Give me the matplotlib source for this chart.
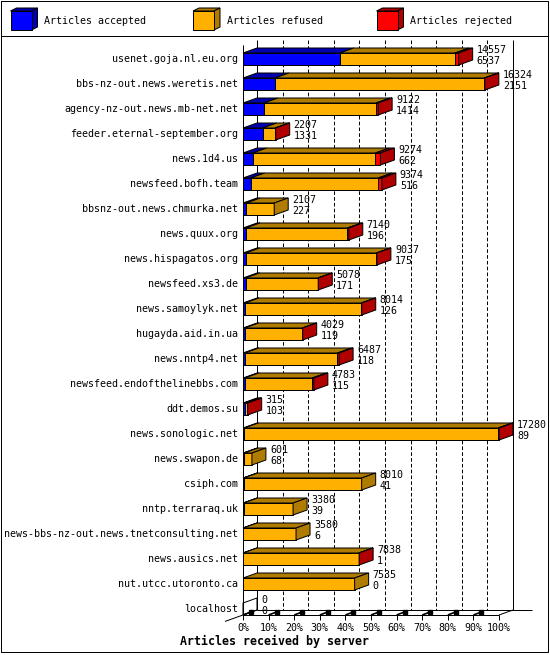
import matplotlib
matplotlib.use("Agg")
import matplotlib.pyplot as plt
from matplotlib.patches import Polygon

# hosts, top number = articles offered, bottom number = articles accepted
hosts = ["usenet.goja.nl.eu.org", "bbs-nz-out.news.weretis.net", "agency-nz-out.news.mb-net.net",
         "feeder.eternal-september.org", "news.1d4.us", "newsfeed.bofh.team", "bbsnz-out.news.chmurka.net",
         "news.quux.org", "news.hispagatos.org", "newsfeed.xs3.de", "news.samoylyk.net",
         "hugayda.aid.in.ua", "news.nntp4.net", "newsfeed.endofthelinebbs.com", "ddt.demos.su",
         "news.sonologic.net", "news.swapon.de", "csiph.com", "nntp.terraraq.uk",
         "news-bbs-nz-out.news.tnetconsulting.net", "news.ausics.net", "nut.utcc.utoronto.ca", "localhost"]
offered = [14557, 16324, 9122, 2207, 9274, 9374, 2107, 7140, 9037, 5078, 8014, 4029,
           6487, 4783, 315, 17280, 601, 8010, 3380, 3580, 7838, 7535, 0]
accepted = [6537, 2151, 1414, 1331, 662, 516, 227, 196, 175, 171, 126, 119,
            118, 115, 103, 89, 68, 41, 39, 6, 1, 0, 0]
refused = [7770, 14133, 7558, 846, 8272, 8608, 1880, 6854, 8832, 4887, 7868, 3890,
           6259, 4558, 152, 17141, 533, 7969, 3341, 3574, 7817, 7535, 0]
rejected = [250, 40, 150, 30, 340, 250, 0, 90, 30, 20, 20, 20,
            110, 110, 60, 50, 0, 0, 0, 0, 20, 0, 0]

series_names = ["Articles accepted", "Articles refused", "Articles rejected"]
face_colors = ["#0000ff", "#ffb000", "#ff0000"]
dark_colors = ["#0000b0", "#b07c00", "#b00000"]
tick_pcts = [0, 10, 20, 30, 40, 50, 60, 70, 80, 90, 100]

W, H = 550, 655
MONO = "DejaVu Sans Mono"
LW = 0.72  # one pixel

fig = plt.figure(figsize=(W / 100, H / 100), dpi=100)

# pixel canvas for the frame and legend
bg = fig.add_axes([0, 0, 1, 1])
bg.set_xlim(0, W)
bg.set_ylim(H, 0)
bg.axis("off")

# chart axes: x in percent of the biggest feed, y in rows
x0_px, px_per_pct = 243, 2.56
y0_px, px_per_row = 59, 25
ax = fig.add_axes([0, 0, 1, 1])
ax.set_xlim(-x0_px / px_per_pct, (W - x0_px) / px_per_pct)
ax.set_ylim((H - y0_px) / px_per_row, -y0_px / px_per_row)
ax.axis("off")
ax.patch.set_alpha(0)

ddx = 14 / px_per_pct   # 3d depth
ddy = -5 / px_per_row
hh = 6 / px_per_row     # half bar height
front_top, front_bot = -0.56, len(hosts) - 1 + hh
back_top, back_bot = front_top + ddy, front_bot + ddy


def line(a, xs, ys, **kw):
    a.plot(xs, ys, color=kw.pop("color", "black"), lw=kw.pop("lw", LW),
           solid_capstyle="butt", **kw)


# frame
line(bg, [1, 548, 548, 1, 1], [1, 1, 652, 652, 1])
line(bg, [1, 548], [35.5, 35.5])

# legend
lx = [10.5, 193, 376.5]
for k, name in enumerate(series_names):
    x, y, w, h = lx[k], 11, 21, 19
    bg.add_patch(Polygon([(x, y), (x + w, y), (x + w + 6, y - 3), (x + 6, y - 3)],
                         fc=dark_colors[k], ec="black", lw=LW))
    bg.add_patch(Polygon([(x + w, y), (x + w, y + h), (x + w + 6, y + h - 3), (x + w + 6, y - 3)],
                         fc=dark_colors[k], ec="black", lw=LW))
    bg.add_patch(Polygon([(x, y), (x + w, y), (x + w, y + h), (x, y + h)],
                         fc=face_colors[k], ec="black", lw=LW))
    bg.text(x + 34, 21, name, family=MONO, fontsize=7.2, va="center", ha="left")

# walls and grid
for p in tick_pcts:
    if p in (0, 100):
        line(ax, [p + ddx, p + ddx], [back_top, back_bot], zorder=1)
    else:
        line(ax, [p + ddx, p + ddx], [back_top, back_bot], ls=(0, (3.6, 2.2)), zorder=1)
line(ax, [0, 0], [front_top, front_bot], zorder=1)
line(ax, [ddx, (531.7 - x0_px) / px_per_pct], [back_bot, back_bot], zorder=1)
line(ax, [(225 - x0_px) / px_per_pct, ddx], [front_bot - ddy * 18 / 14, back_bot], zorder=1)
line(ax, [0, 100], [front_bot, front_bot], zorder=1)
line(ax, [100, 100 + ddx], [front_bot, back_bot], zorder=1)
for p in tick_pcts:
    line(ax, [p, p], [front_bot, front_bot + 0.18], zorder=1)
    if p < 100:
        line(ax, [p, p + 3.1], [front_bot, front_bot + ddy * 0.6], lw=1.2, zorder=1)
        ax.plot([p + 3.1], [front_bot + ddy * 0.6], "s", color="black", ms=2.2, zorder=1)
    ax.text(p, (628 - y0_px) / px_per_row, f"{p}%", family=MONO, fontsize=7.2,
            ha="center", va="center")

# bars
top_val = max(offered)
for i, host in enumerate(hosts):
    vals = [accepted[i], refused[i], rejected[i]]
    left = 0.0
    last = None
    for k, v in enumerate(vals):
        if v <= 0:
            continue
        w = v / top_val * 100
        ax.add_patch(Polygon([(left, i - hh), (left + w, i - hh), (left + w, i + hh), (left, i + hh)],
                             fc=face_colors[k], ec="black", lw=LW, zorder=3))
        ax.add_patch(Polygon([(left, i - hh), (left + w, i - hh), (left + w + ddx, i - hh + ddy),
                              (left + ddx, i - hh + ddy)],
                             fc=dark_colors[k], ec="black", lw=LW, zorder=3))
        left += w
        last = k
    side = [(left, i - hh), (left, i + hh), (left + ddx, i + hh + ddy), (left + ddx, i - hh + ddy)]
    if last is None:
        ax.add_patch(Polygon(side, fill=False, ec="black", lw=LW, zorder=3))
    else:
        ax.add_patch(Polygon(side, fc=dark_colors[last], ec="black", lw=LW, zorder=3))

    ax.text(-5 / px_per_pct, i, host, family=MONO, fontsize=7.2, ha="right", va="center")
    tx = left + ddx + 4 / px_per_pct
    ax.text(tx, i - 0.36, str(offered[i]), family=MONO, fontsize=7.2, ha="left", va="center", zorder=4)
    ax.text(tx, i + 0.08, str(accepted[i]), family=MONO, fontsize=7.2, ha="left", va="center", zorder=4)

bg.text(274, 641.5, "Articles received by server", family=MONO, fontsize=8.4,
        fontweight="bold", ha="center", va="center")

fig.savefig("out.png", dpi=100)
